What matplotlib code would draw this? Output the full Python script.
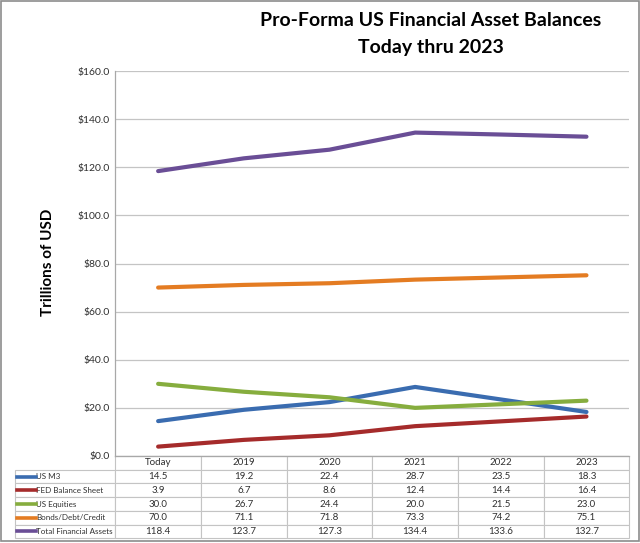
import matplotlib
matplotlib.use("Agg")
import matplotlib.pyplot as plt
from matplotlib.patches import Rectangle
from matplotlib.ticker import FuncFormatter
from matplotlib.table import Table

categories = ["Today", "2019", "2020", "2021", "2022", "2023"]
series_names = ["US M3", "FED Balance Sheet", "US Equities", "Bonds/Debt/Credit", "Total Financial Assets"]
us_m3 = [14.5, 19.2, 22.4, 28.7, 23.5, 18.3]
fed_balance = [3.9, 6.7, 8.6, 12.4, 14.4, 16.4]
us_equities = [30.0, 26.7, 24.4, 20.0, 21.5, 23.0]
bonds_debt = [70.0, 71.1, 71.8, 73.3, 74.2, 75.1]
total_assets = [118.4, 123.7, 127.3, 134.4, 133.6, 132.7]
series_values = [us_m3, fed_balance, us_equities, bonds_debt, total_assets]
colors = ["#3A6CB0", "#A52B2B", "#86AD3E", "#E47C22", "#6A4E96"]
y_ticks = [0, 20, 40, 60, 80, 100, 120, 140, 160]

FONT = "Lato"
plt.rcParams['font.family'] = [FONT, 'DejaVu Sans']

W, H = 640, 543
fig = plt.figure(figsize=(W / 100, H / 100), dpi=100)

ax_l, ax_r, ax_t, ax_b = 115.3, 629.3, 71.0, 456.0
ax_w, ax_h = ax_r - ax_l, ax_b - ax_t
ax = fig.add_axes([ax_l / W, 1 - ax_b / H, ax_w / W, ax_h / H])

x = list(range(len(categories)))
for vals, c in zip(series_values, colors):
    ax.plot(x, vals, color=c, lw=3.0, solid_capstyle='round', zorder=3)

ax.set_xlim(-0.5, len(categories) - 0.5)
ax.set_ylim(0, 160)
ax.set_yticks(y_ticks)
ax.yaxis.set_major_formatter(FuncFormatter(lambda v, p: f"${v:.1f}"))
ax.set_xticks([])
ax.tick_params(axis='y', length=0, pad=4, labelsize=7.5, labelcolor="#303030")
ax.grid(axis='y', color="#C4C4C4", lw=0.9)
ax.set_axisbelow(True)
for s in ["top", "right"]:
    ax.spines[s].set_visible(False)
for s in ["left", "bottom"]:
    ax.spines[s].set_color("#A8A8A8")
    ax.spines[s].set_linewidth(0.9)

fig.text(48.5 / W, 1 - 262 / H, "Trillions of USD", rotation=90, ha='center', va='center',
         fontsize=11, fontweight='bold', color="black")

# fit the row-label font so the longest label fits its cell like the reference
renderer = fig.canvas.get_renderer()
probe = fig.text(0, 0, max(series_names, key=len), fontsize=10, family=[FONT, 'DejaVu Sans'])
probe_w = probe.get_window_extent(renderer).width
probe.remove()
label_fs = min(7.0, 10 * 76.0 / probe_w)

# data table (built in axes coordinates)
tbl_left, tbl_bottom = 15.3, 538.3
n_rows = len(series_names) + 1
row_h = (tbl_bottom - ax_b) / ax_h / n_rows
col_w = 1.0 / len(categories)
row_label_w = (ax_l - tbl_left) / ax_w
tbl = Table(ax, bbox=[0, -(tbl_bottom - ax_b) / ax_h, 1.0, (tbl_bottom - ax_b) / ax_h])
tbl.auto_set_font_size(False)
cells = []
label_cells = []
for c, cat in enumerate(categories):
    cells.append(tbl.add_cell(0, c, width=col_w, height=row_h, text=cat, loc='center'))
for r, (name, vals) in enumerate(zip(series_names, series_values), start=1):
    lab = tbl.add_cell(r, -1, width=row_label_w, height=row_h, text=name, loc='left')
    lab.PAD = 20.5 / (ax_l - tbl_left)
    cells.append(lab)
    label_cells.append(lab)
    for c, v in enumerate(vals):
        cells.append(tbl.add_cell(r, c, width=col_w, height=row_h, text=f"{v:.1f}", loc='center'))
for cell in cells:
    cell.set_edgecolor("#C4C4C4")
    cell.set_linewidth(0.8)
    cell.set_facecolor("white")
    t = cell.get_text()
    t.set_fontsize(7)
    t.set_color("#303030")
    t.set_fontfamily([FONT, 'DejaVu Sans'])
for lab in label_cells:
    lab.get_text().set_fontsize(label_fs)
ax.add_table(tbl)

# legend keys inside row-label cells
key_x0 = (16.7 - ax_l) / ax_w
key_x1 = (35.7 - ax_l) / ax_w
for i, c in enumerate(colors):
    yc = -(i + 1.5) * row_h
    ax.plot([key_x0, key_x1], [yc, yc], transform=ax.transAxes, color=c,
            lw=2.6, clip_on=False, zorder=5)

# title
fig.text(431 / W, 1 - 20 / H, "Pro-Forma US Financial Asset Balances", ha='center', va='center',
         fontsize=14, fontweight='bold', color="black")
fig.text(431 / W, 1 - 47 / H, "Today thru 2023", ha='center', va='center',
         fontsize=14, fontweight='bold', color="black")

# outer border
fig.patches.append(Rectangle((1 / W, 1 - 540.5 / H), 637.5 / W, 539.5 / H, transform=fig.transFigure,
                             fill=False, edgecolor="#8C8C8C", lw=1.2))

fig.savefig("out.png", dpi=100)
